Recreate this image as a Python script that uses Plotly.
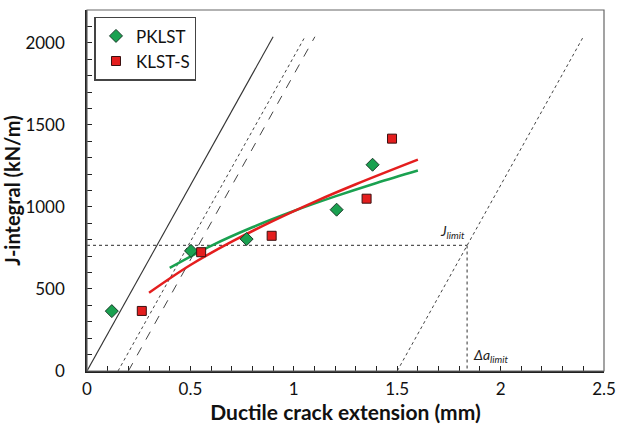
import plotly.graph_objects as go

# Measured data
pk_x = [0.120, 0.503, 0.772, 1.207, 1.381]
pk_y = [365, 732, 804, 983, 1257]
ks_x = [0.265, 0.552, 0.893, 1.352, 1.475]
ks_y = [366, 724, 824, 1050, 1416]

# Fit curves
pk_fit_x = [0.40, 0.60, 0.80, 1.00, 1.20, 1.40, 1.60]
pk_fit_y = [628, 763, 876, 975, 1064, 1146, 1222]
ks_fit_x = [0.30, 0.50, 0.70, 0.90, 1.10, 1.30, 1.60]
ks_fit_y = [477, 646, 788, 915, 1031, 1138, 1288]

# Construction lines
blunt_x = [0.0, 0.90]
blunt_y = [0, 2037]
excl1_x = [0.15, 1.054]
excl1_y = [0, 2037]
excl2_x = [0.20, 1.102]
excl2_y = [0, 2037]
limit_line_x = [1.50, 2.40]
limit_line_y = [0, 2037]
jlim_h_x = [0.0, 1.838]
jlim_h_y = [765, 765]
jlim_v_x = [1.838, 1.838]
jlim_v_y = [765, 0]

FONT = "Lato, Calibri, Carlito, sans-serif"
GREEN = "#1aa150"
RED = "#e41e1e"

fig = go.Figure()

def cline(x, y, dash, color="#333333", width=1):
    fig.add_trace(go.Scatter(x=x, y=y, mode="lines", showlegend=False,
                             line=dict(color=color, width=width, dash=dash),
                             hoverinfo="skip"))

cline(blunt_x, blunt_y, "solid", "#333333", 1.1)
cline(excl1_x, excl1_y, "dot", "#444444", 1)
cline(excl2_x, excl2_y, "dash", "#444444", 1)
cline(limit_line_x, limit_line_y, "dot", "#444444", 1)
cline(jlim_h_x, jlim_h_y, "dot", "#555555", 1.2)
cline(jlim_v_x, jlim_v_y, "dot", "#555555", 1.2)

fig.add_trace(go.Scatter(x=pk_fit_x, y=pk_fit_y, mode="lines", showlegend=False,
                         line=dict(color=GREEN, width=2.5, shape="spline")))
fig.add_trace(go.Scatter(x=ks_fit_x, y=ks_fit_y, mode="lines", showlegend=False,
                         line=dict(color=RED, width=2.5, shape="spline")))

fig.add_trace(go.Scatter(x=pk_x, y=pk_y, mode="markers", name="PKLST",
                         marker=dict(symbol="diamond", size=10, color=GREEN,
                                     line=dict(color="#1b3b2a", width=1))))
fig.add_trace(go.Scatter(x=ks_x, y=ks_y, mode="markers", name="KLST-S",
                         marker=dict(symbol="square", size=9, color=RED,
                                     line=dict(color="#3a1010", width=1))))

fig.add_annotation(x=1.838, y=765, xref="x", yref="y", text="<i>J<sub>limit</sub></i>",
                   showarrow=False, xanchor="right", yanchor="bottom", xshift=0, yshift=2,
                   font=dict(family=FONT, size=14, color="#222"))
fig.add_annotation(x=1.838, y=0, xref="x", yref="y", text="<i>Δa<sub>limit</sub></i>",
                   showarrow=False, xanchor="left", yanchor="bottom", xshift=4, yshift=4,
                   font=dict(family=FONT, size=14, color="#222"))

fig.update_layout(
    width=626, height=435,
    margin=dict(l=87, r=22, t=10, b=64),
    paper_bgcolor="white", plot_bgcolor="white",
    font=dict(family=FONT, size=17, color="#111"),
    legend=dict(x=0.0145, y=0.981, xanchor="left", yanchor="top",
                bordercolor="#444", borderwidth=1.5, bgcolor="white",
                font=dict(family=FONT, size=17, color="#111"),
                itemwidth=30),
    xaxis=dict(range=[0, 2.5], dtick=0.5, tick0=0, showgrid=False, zeroline=False,
               automargin=False,
               showline=True, linecolor="#222", linewidth=1.5, mirror=False,
               ticks="inside", ticklen=5, tickcolor="#222",
               minor=dict(dtick=0.1, ticks="inside", ticklen=5, tickcolor="#222"),
               ticklabelstandoff=2,
               title=dict(text="<b>Ductile crack extension (mm)</b>", standoff=0,
                          font=dict(family=FONT, size=21, color="#111"))),
    yaxis=dict(range=[0, 2200], tickvals=[0, 500, 1000, 1500, 2000], showgrid=False,
               automargin=False,
               zeroline=False, showline=True, linecolor="#222", linewidth=1.5, mirror=False,
               ticks="inside", ticklen=5, tickcolor="#222",
               minor=dict(dtick=100, ticks="inside", ticklen=5, tickcolor="#222"),
               ticklabelstandoff=17,
               title=dict(text="<b>J-integral (kN/m)</b>", standoff=1,
                          font=dict(family=FONT, size=20, color="#111"))),
)

fig.add_shape(type="rect", xref="paper", yref="paper", x0=0, y0=0, x1=1, y1=1,
              line=dict(color="#666", width=1.2), layer="above")

fig.write_html("out.html", config={"displayModeBar": False},
               post_script="document.body.style.margin='0';")
